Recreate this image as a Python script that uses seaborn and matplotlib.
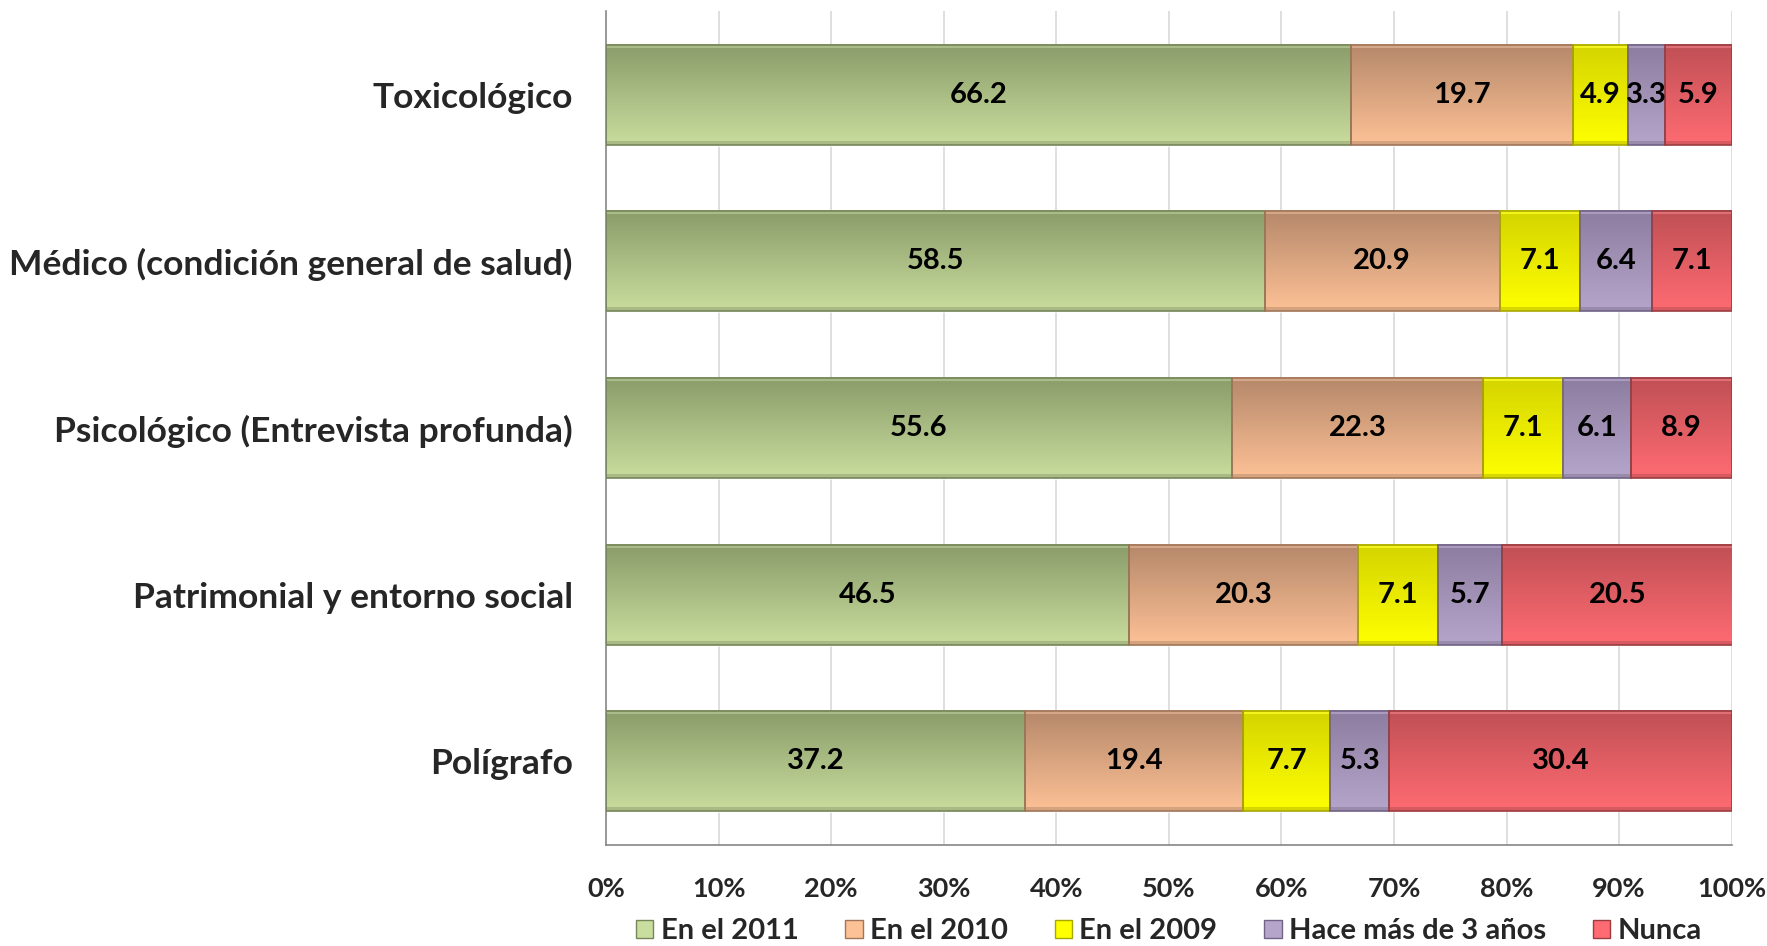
import numpy as np
import pandas as pd
import matplotlib.pyplot as plt
import seaborn as sns
from matplotlib.patches import Rectangle, Patch
from matplotlib.colors import to_rgb

categories = ["Toxicológico", "Médico (condición general de salud)",
              "Psicológico (Entrevista profunda)", "Patrimonial y entorno social",
              "Polígrafo"]
series = ["En el 2011", "En el 2010", "En el 2009", "Hace más de 3 años", "Nunca"]
en_2011 = [66.2, 58.5, 55.6, 46.5, 37.2]
en_2010 = [19.7, 20.9, 22.3, 20.3, 19.4]
en_2009 = [4.9, 7.1, 7.1, 7.1, 7.7]
hace_3 = [3.3, 6.4, 6.1, 5.7, 5.3]
nunca = [5.9, 7.1, 8.9, 20.5, 30.4]
values = [en_2011, en_2010, en_2009, hace_3, nunca]

# gradient colours (top, bottom) per series
top_colors = ["#8a9c69", "#b5886a", "#d4d400", "#8c7da0", "#bf5055"]
bot_colors = ["#c9dd9e", "#fdc196", "#ffff00", "#b6a5cb", "#ff6b72"]
edge_colors = ["#76865a", "#a07558", "#a8a800", "#716385", "#9a3c40"]

sns.set_theme(style="white")
plt.rcParams["font.family"] = ["Lato", "DejaVu Sans"]
plt.rcParams["font.weight"] = "bold"

df = pd.DataFrame(dict(zip(series, values)), index=categories)
df.index.name = "cat"
cum = df.cumsum(axis=1)

fig, ax = plt.subplots(figsize=(17.67, 9.46), dpi=100)
fig.subplots_adjust(left=0.343, right=0.980, top=0.988, bottom=0.107)

for x in np.arange(10, 101, 10):
    ax.axvline(x, color="#d9d9d9", lw=1.2, zorder=0)

# draw cumulative bars from longest to shortest so each segment shows
for i in range(len(series) - 1, -1, -1):
    sns.barplot(x=cum[series[i]].values, y=categories, orient="h",
                color=bot_colors[i], width=0.6, ax=ax, zorder=1)

def gradient(top, bot, n=100):
    t = np.linspace(0, 1, n)[:, None]
    a = np.array(to_rgb(top))
    b = np.array(to_rgb(bot))
    g = a + (b - a) * t
    g[:4] = np.clip(g[:4] + 0.12, 0, 1)
    g[-4:] = np.clip(g[-4:] * 0.85, 0, 1)
    return g[:, None, :]

bar_h = 0.6
for j, cat in enumerate(categories):
    left = 0
    for i, s in enumerate(series):
        v = df.loc[cat, s]
        y0 = j - bar_h / 2
        ax.imshow(gradient(top_colors[i], bot_colors[i]), aspect="auto",
                  extent=(left, left + v, y0 + bar_h, y0), origin="upper",
                  zorder=2, interpolation="bilinear")
        ax.add_patch(Rectangle((left, y0), v, bar_h, fill=False,
                               edgecolor=edge_colors[i], lw=1.2, zorder=3))
        ax.text(left + v / 2, j, f"{v:.1f}", ha="center", va="center",
                fontsize=21, fontweight="bold", color="black", zorder=4)
        left += v

ax.set_xlim(0, 100)
ax.set_ylim(len(categories) - 0.5, -0.5)
ax.set_xticks(np.arange(0, 101, 10))
ax.set_xticklabels([f"{t}%" for t in range(0, 101, 10)], fontsize=19.5,
                   fontweight="bold")
ax.set_yticks(range(len(categories)))
ax.set_yticklabels(categories, fontsize=25.5, fontweight="bold")
ax.tick_params(axis="x", pad=23, length=0)
ax.tick_params(axis="y", pad=24, length=0)
ax.set_xlabel("")
ax.set_ylabel("")
for side in ["top", "right"]:
    ax.spines[side].set_visible(False)
for side in ["left", "bottom"]:
    ax.spines[side].set_color("#868686")
    ax.spines[side].set_linewidth(1.2)

handles = [Patch(facecolor=bot_colors[i], edgecolor=edge_colors[i], label=s)
           for i, s in enumerate(series)]
ax.legend(handles=handles, loc="center", bbox_to_anchor=(0.5, -0.104),
          ncol=5, frameon=False, handlelength=0.6, borderaxespad=0,
          borderpad=0, handleheight=0.6, handletextpad=0.25, columnspacing=1.6,
          prop={"weight": "bold", "size": 21})

fig.savefig("out.png", dpi=100)
